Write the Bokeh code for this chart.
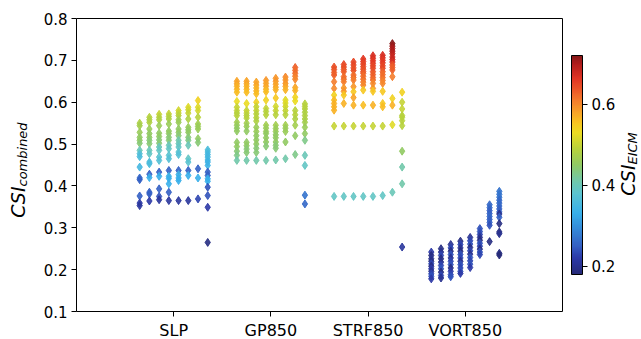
import numpy as np
from bokeh.plotting import figure
from bokeh.models import (ColumnDataSource, LinearColorMapper, FixedTicker, Label,
                          LinearAxis, Range1d, ColorBar)
from bokeh.embed import file_html
from bokeh.resources import INLINE

categories = ["SLP", "GP850", "STRF850", "VORT850"]
y_ticks = [0.1, 0.2, 0.3, 0.4, 0.5, 0.6, 0.7, 0.8]
cbar_ticks = [0.2, 0.4, 0.6]

slp_y = [
    [0.550, 0.544, 0.528, 0.516, 0.509, 0.502, 0.485, 0.477, 0.470, 0.445, 0.419, 0.415, 0.376, 0.359, 0.353],
    [0.564, 0.558, 0.552, 0.536, 0.525, 0.516, 0.509, 0.501, 0.485, 0.477, 0.457, 0.453, 0.428, 0.420, 0.385, 0.381, 0.364],
    [0.571, 0.564, 0.558, 0.544, 0.526, 0.518, 0.510, 0.502, 0.493, 0.485, 0.469, 0.461, 0.433, 0.423, 0.393, 0.375, 0.367],
    [0.572, 0.566, 0.560, 0.548, 0.531, 0.525, 0.516, 0.509, 0.497, 0.489, 0.473, 0.465, 0.437, 0.423, 0.418, 0.405, 0.385, 0.365],
    [0.580, 0.574, 0.568, 0.558, 0.552, 0.536, 0.528, 0.520, 0.509, 0.501, 0.493, 0.481, 0.475, 0.437, 0.427, 0.419, 0.413, 0.365],
    [0.588, 0.582, 0.574, 0.560, 0.540, 0.534, 0.528, 0.516, 0.509, 0.497, 0.465, 0.457, 0.437, 0.425, 0.365],
    [0.604, 0.588, 0.580, 0.564, 0.548, 0.542, 0.536, 0.513, 0.504, 0.441, 0.419, 0.369],
    [0.486, 0.481, 0.475, 0.469, 0.462, 0.457, 0.449, 0.433, 0.425, 0.417, 0.411, 0.397, 0.377, 0.349, 0.265],
]
slp_c = [
    [0.48, 0.47, 0.46, 0.45, 0.45, 0.44, 0.40, 0.37, 0.36, 0.35, 0.26, 0.25, 0.25, 0.22, 0.21],
    [0.49, 0.48, 0.48, 0.46, 0.45, 0.45, 0.44, 0.44, 0.40, 0.39, 0.36, 0.36, 0.25, 0.33, 0.25, 0.25, 0.22],
    [0.50, 0.49, 0.48, 0.46, 0.45, 0.45, 0.44, 0.44, 0.40, 0.39, 0.38, 0.37, 0.25, 0.33, 0.25, 0.24, 0.21],
    [0.50, 0.49, 0.48, 0.46, 0.45, 0.45, 0.44, 0.44, 0.40, 0.39, 0.38, 0.37, 0.25, 0.34, 0.33, 0.33, 0.25, 0.21],
    [0.51, 0.50, 0.49, 0.47, 0.46, 0.45, 0.45, 0.44, 0.41, 0.40, 0.39, 0.38, 0.37, 0.25, 0.34, 0.33, 0.33, 0.21],
    [0.52, 0.51, 0.50, 0.48, 0.46, 0.45, 0.45, 0.44, 0.43, 0.40, 0.39, 0.38, 0.25, 0.33, 0.21],
    [0.54, 0.52, 0.51, 0.49, 0.47, 0.46, 0.46, 0.45, 0.44, 0.25, 0.33, 0.23],
    [0.36, 0.36, 0.35, 0.35, 0.35, 0.34, 0.34, 0.25, 0.25, 0.33, 0.33, 0.24, 0.24, 0.22, 0.19],
]

gp850_y = [
    [0.650, 0.644, 0.638, 0.631, 0.624, 0.602, 0.588, 0.580, 0.574, 0.568, 0.552, 0.545, 0.538, 0.531, 0.504, 0.494, 0.483, 0.473, 0.461],
    [0.650, 0.644, 0.638, 0.631, 0.624, 0.597, 0.580, 0.574, 0.568, 0.562, 0.550, 0.542, 0.531, 0.504, 0.496, 0.488, 0.480, 0.461],
    [0.648, 0.641, 0.634, 0.627, 0.620, 0.600, 0.589, 0.580, 0.572, 0.563, 0.555, 0.540, 0.530, 0.520, 0.510, 0.500, 0.490, 0.480, 0.461],
    [0.652, 0.645, 0.638, 0.631, 0.625, 0.605, 0.585, 0.578, 0.570, 0.545, 0.538, 0.530, 0.525, 0.515, 0.505, 0.495, 0.461],
    [0.657, 0.650, 0.643, 0.636, 0.630, 0.610, 0.590, 0.580, 0.570, 0.545, 0.537, 0.530, 0.522, 0.515, 0.505, 0.497, 0.490, 0.462],
    [0.660, 0.653, 0.645, 0.638, 0.630, 0.605, 0.598, 0.590, 0.580, 0.570, 0.545, 0.538, 0.530, 0.505, 0.465],
    [0.683, 0.676, 0.669, 0.662, 0.655, 0.635, 0.628, 0.612, 0.603, 0.580, 0.570, 0.560, 0.545, 0.520, 0.475],
    [0.596, 0.590, 0.584, 0.576, 0.568, 0.560, 0.552, 0.540, 0.525, 0.509, 0.473, 0.449, 0.378, 0.357],
]
gp850_c = [
    [0.58, 0.58, 0.57, 0.57, 0.56, 0.53, 0.50, 0.50, 0.49, 0.49, 0.47, 0.46, 0.45, 0.45, 0.45, 0.45, 0.44, 0.43, 0.41],
    [0.58, 0.58, 0.57, 0.57, 0.56, 0.53, 0.50, 0.50, 0.49, 0.49, 0.47, 0.46, 0.45, 0.45, 0.45, 0.44, 0.44, 0.41],
    [0.58, 0.58, 0.57, 0.57, 0.56, 0.54, 0.50, 0.50, 0.49, 0.49, 0.48, 0.46, 0.46, 0.45, 0.45, 0.45, 0.44, 0.44, 0.41],
    [0.59, 0.58, 0.58, 0.57, 0.56, 0.54, 0.50, 0.49, 0.49, 0.47, 0.46, 0.46, 0.45, 0.45, 0.45, 0.44, 0.41],
    [0.59, 0.59, 0.58, 0.58, 0.57, 0.55, 0.51, 0.50, 0.49, 0.47, 0.46, 0.46, 0.45, 0.45, 0.45, 0.44, 0.44, 0.41],
    [0.60, 0.59, 0.59, 0.58, 0.57, 0.52, 0.52, 0.51, 0.50, 0.49, 0.47, 0.46, 0.46, 0.45, 0.41],
    [0.63, 0.62, 0.62, 0.61, 0.60, 0.58, 0.57, 0.54, 0.53, 0.49, 0.49, 0.48, 0.47, 0.45, 0.43],
    [0.49, 0.49, 0.49, 0.48, 0.48, 0.48, 0.47, 0.46, 0.45, 0.43, 0.40, 0.39, 0.27, 0.26],
]

strf850_y = [
    [0.684, 0.678, 0.671, 0.665, 0.649, 0.633, 0.617, 0.605, 0.597, 0.589, 0.581, 0.543, 0.375],
    [0.690, 0.684, 0.678, 0.673, 0.661, 0.655, 0.649, 0.634, 0.626, 0.617, 0.597, 0.543, 0.375],
    [0.696, 0.689, 0.682, 0.676, 0.665, 0.659, 0.653, 0.637, 0.625, 0.611, 0.593, 0.543, 0.375],
    [0.703, 0.697, 0.691, 0.685, 0.679, 0.673, 0.669, 0.662, 0.655, 0.648, 0.641, 0.629, 0.593, 0.543, 0.375],
    [0.711, 0.705, 0.699, 0.693, 0.687, 0.681, 0.673, 0.666, 0.659, 0.653, 0.645, 0.633, 0.626, 0.593, 0.543, 0.375],
    [0.712, 0.706, 0.700, 0.694, 0.687, 0.681, 0.673, 0.666, 0.659, 0.652, 0.645, 0.626, 0.597, 0.589, 0.543, 0.377],
    [0.740, 0.734, 0.728, 0.722, 0.716, 0.708, 0.702, 0.696, 0.689, 0.683, 0.677, 0.661, 0.609, 0.593, 0.546, 0.385],
    [0.624, 0.600, 0.584, 0.568, 0.564, 0.556, 0.544, 0.483, 0.445, 0.405, 0.254],
]
strf850_c = [
    [0.64, 0.64, 0.63, 0.63, 0.61, 0.60, 0.54, 0.56, 0.57, 0.57, 0.57, 0.50, 0.39],
    [0.65, 0.64, 0.64, 0.63, 0.62, 0.62, 0.61, 0.59, 0.59, 0.55, 0.57, 0.50, 0.39],
    [0.65, 0.65, 0.64, 0.64, 0.62, 0.62, 0.61, 0.59, 0.55, 0.58, 0.57, 0.50, 0.39],
    [0.66, 0.66, 0.65, 0.65, 0.64, 0.64, 0.63, 0.62, 0.62, 0.61, 0.60, 0.55, 0.56, 0.50, 0.39],
    [0.67, 0.67, 0.66, 0.66, 0.65, 0.65, 0.64, 0.63, 0.63, 0.62, 0.60, 0.59, 0.55, 0.57, 0.50, 0.39],
    [0.67, 0.67, 0.66, 0.66, 0.65, 0.65, 0.63, 0.62, 0.62, 0.61, 0.60, 0.55, 0.55, 0.56, 0.50, 0.39],
    [0.72, 0.71, 0.70, 0.70, 0.69, 0.68, 0.68, 0.67, 0.64, 0.63, 0.63, 0.61, 0.54, 0.57, 0.52, 0.40],
    [0.54, 0.50, 0.50, 0.49, 0.49, 0.49, 0.49, 0.45, 0.41, 0.41, 0.21],
]

vort850_y = [
    [0.242, 0.234, 0.226, 0.220, 0.214, 0.208, 0.202, 0.196, 0.190, 0.184, 0.178],
    [0.250, 0.242, 0.234, 0.226, 0.218, 0.210, 0.202, 0.194, 0.186, 0.180],
    [0.260, 0.252, 0.244, 0.236, 0.228, 0.220, 0.212, 0.204, 0.196, 0.188, 0.183],
    [0.268, 0.260, 0.252, 0.244, 0.236, 0.228, 0.220, 0.212, 0.204, 0.196, 0.191],
    [0.277, 0.269, 0.261, 0.253, 0.245, 0.237, 0.229, 0.221, 0.213, 0.205],
    [0.298, 0.291, 0.284, 0.277, 0.270, 0.263, 0.256, 0.249, 0.242, 0.236],
    [0.355, 0.348, 0.341, 0.334, 0.327, 0.320, 0.313, 0.306, 0.267],
    [0.387, 0.380, 0.373, 0.366, 0.359, 0.352, 0.345, 0.338, 0.333, 0.325, 0.310, 0.290, 0.286, 0.239, 0.235],
]
vort850_c = [
    [0.22, 0.19, 0.20, 0.19, 0.23, 0.19, 0.22, 0.20, 0.23, 0.24, 0.22],
    [0.19, 0.20, 0.23, 0.19, 0.20, 0.23, 0.24, 0.19, 0.23, 0.20],
    [0.20, 0.23, 0.19, 0.24, 0.20, 0.23, 0.24, 0.19, 0.22, 0.23, 0.24],
    [0.19, 0.23, 0.20, 0.19, 0.24, 0.23, 0.20, 0.24, 0.23, 0.24, 0.22],
    [0.20, 0.23, 0.24, 0.19, 0.23, 0.20, 0.24, 0.23, 0.24, 0.22],
    [0.24, 0.24, 0.23, 0.20, 0.19, 0.24, 0.23, 0.19, 0.24, 0.23],
    [0.26, 0.26, 0.25, 0.25, 0.26, 0.25, 0.25, 0.24, 0.19],
    [0.27, 0.27, 0.27, 0.26, 0.26, 0.26, 0.25, 0.25, 0.20, 0.25, 0.19, 0.19, 0.20, 0.19, 0.18],
]

groups_y = [slp_y, gp850_y, strf850_y, vort850_y]
groups_c = [slp_c, gp850_c, strf850_c, vort850_c]

# muted jet-like colour map (anchor fraction -> colour)
cmap_stops = [0.0, 0.074, 0.13, 0.22, 0.28, 0.37, 0.43, 0.50, 0.574, 0.648, 0.694, 0.74, 0.796, 0.843, 0.898, 0.963, 1.0]
cmap_cols = ["#262a78", "#2c3aa8", "#3460c4", "#3490dc", "#38b0ea", "#5cc4d0", "#72c8a8", "#90ca64",
             "#b8d23c", "#ecdc22", "#f8c420", "#f8a428", "#f47c2c", "#ec5828", "#e03424", "#b01c1c", "#861818"]


def make_palette(n=256):
    t = np.linspace(0, 1, n)
    rgb = np.array([[int(h[i:i + 2], 16) for i in (1, 3, 5)] for h in cmap_cols], dtype=float)
    chans = [np.interp(t, cmap_stops, rgb[:, k]) for k in range(3)]
    return ["#%02x%02x%02x" % tuple(int(round(ch[i])) for ch in chans) for i in range(n)]


xs, ys, cs = [], [], []
for gi, (gy, gc) in enumerate(zip(groups_y, groups_c)):
    ncol = len(gy)
    for j, (col_y, col_c) in enumerate(zip(gy, gc)):
        xpos = gi + 1 + (j - (ncol - 1) / 2) * 0.1
        for yv, cv in zip(col_y, col_c):
            xs.append(xpos)
            ys.append(yv)
            cs.append(cv)

lo, hi = min(cs), max(cs)
mapper = LinearColorMapper(palette=make_palette(), low=lo, high=hi)
src = ColumnDataSource(dict(x=xs, y=ys, c=cs))

FONT = "DejaVu Sans"
W, H = 641, 339
FL, FR, FT, FB = 76, 562, 18, 311          # axes box in page pixels
X0, X1, Y0, Y1 = 0.0, 5.0, 0.1, 0.8         # data limits of the axes box
sx = (FR - FL) / (X1 - X0)
sy = (FB - FT) / (Y1 - Y0)

p = figure(frame_width=W, frame_height=H, min_border=0,
           x_range=Range1d(X0 - FL / sx, X1 + (W - FR) / sx),
           y_range=Range1d(Y0 - (H - FB) / sy, Y1 + FT / sy),
           x_axis_location=None, y_axis_location=None,
           output_backend="svg", toolbar_location=None)
p.grid.visible = False
p.outline_line_color = None
p.background_fill_color = "white"
p.border_fill_color = "white"


def style_axis(ax, ticks):
    ax.ticker = FixedTicker(ticks=ticks)
    ax.axis_line_color = "black"
    ax.axis_line_width = 1
    ax.major_tick_line_color = "black"
    ax.major_tick_out = 5
    ax.major_tick_in = 0
    ax.minor_tick_line_color = None
    ax.major_label_text_font = FONT
    ax.major_label_text_font_size = "15px"
    ax.major_label_text_color = "black"
    ax.major_label_standoff = 4


left = LinearAxis(fixed_location=X0, bounds=(Y0, Y1))
style_axis(left, y_ticks)
p.add_layout(left, "left")

bottom = LinearAxis(fixed_location=Y0, bounds=(X0, X1))
style_axis(bottom, [1, 2, 3, 4])
bottom.major_label_overrides = {i + 1: name for i, name in enumerate(categories)}
bottom.major_label_text_font_size = "16px"
p.add_layout(bottom, "below")

top = LinearAxis(fixed_location=Y1, bounds=(X0, X1))
style_axis(top, [])
top.major_tick_line_color = None
p.add_layout(top, "above")

right = LinearAxis(fixed_location=X1, bounds=(Y0, Y1))
style_axis(right, [])
right.major_tick_line_color = None
p.add_layout(right, "right")

p.scatter(x="x", y="y", source=src, marker="diamond", size=8,
          fill_color={"field": "c", "transform": mapper},
          line_color={"field": "c", "transform": mapper},
          fill_alpha=0.9, line_alpha=0.9, line_width=1)


def px(xp):
    return X0 + (xp - FL) / sx


def py(yp):
    return Y1 - (yp - FT) / sy


def add_text(x, y, text, size, align):
    p.add_layout(Label(x=px(x), y=py(y), text=text, angle=np.pi / 2,
                       text_align=align, text_baseline="middle",
                       text_font=FONT, text_font_style="italic",
                       text_font_size=size, text_color="black"))


add_text(17, 186, "CSI", "19px", "right")
add_text(22, 186, "combined", "13px", "left")
add_text(627, 164, "CSI", "19px", "right")
add_text(632, 164, "EICM", "13px", "left")

CB_L, CB_T, CB_W, CB_H = 571, 55, 11, 219
cbar = ColorBar(color_mapper=mapper, ticker=FixedTicker(ticks=cbar_ticks),
                width=CB_W, height=CB_H, location=(CB_L, H - CB_T - CB_H),
                padding=0, margin=0, background_fill_alpha=0,
                bar_line_color="black", bar_line_width=1,
                major_tick_line_color="black", major_tick_out=5, major_tick_in=0,
                minor_tick_line_color=None, label_standoff=4,
                major_label_text_font=FONT, major_label_text_font_size="15px",
                major_label_text_color="black")
p.add_layout(cbar, "center")

open("out.html", "w").write(file_html(p, INLINE))
